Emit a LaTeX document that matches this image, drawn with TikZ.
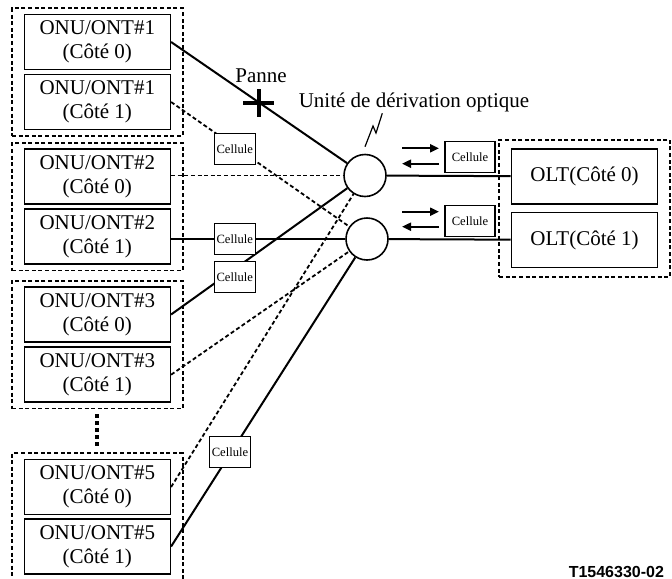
\documentclass[tikz,border=0pt]{standalone}
\usepackage{fontspec}
\setmainfont{Liberation Serif}
\setsansfont{Liberation Sans}
\usetikzlibrary{arrows.meta,fit}
\tikzset{
  onu/.style={draw, line width=0.8pt, fill=white, minimum width=73pt, minimum height=27.5pt,
    align=center, inner sep=0pt, font=\fontsize{10.5}{12}\selectfont},
  cell/.style={draw, line width=0.6pt, fill=white, minimum width=20.5pt, minimum height=15.5pt,
    inner sep=0pt, font=\fontsize{6.3}{7}\selectfont},
  coupler/.style={draw, circle, line width=0.8pt, fill=white, minimum size=21pt, inner sep=0pt},
  grp/.style={draw, line width=0.9pt, dash pattern=on 2pt off 1.3pt, inner xsep=5.75pt, inner ysep=2.75pt},
  link/.style={line width=1pt},
  spare/.style={line width=0.9pt, dash pattern=on 2pt off 1.3pt},
  flow/.style={line width=1pt, -{Triangle[length=4.5pt,width=4pt]}},
  lbl/.style={font=\fontsize{10.5}{12}\selectfont},
}
\begin{document}
\begin{tikzpicture}[x=0.5pt, y=-0.5pt]
    \useasboundingbox (0,0) rectangle (672,578);

    \node[onu] (onu1a) at (97.3,42) {ONU/ONT\#1\\(Côté 0)};
    \node[onu] (onu1b) at (97.3,102) {ONU/ONT\#1\\(Côté 1)};
    \node[onu] (onu2a) at (97.3,176.5) {ONU/ONT\#2\\(Côté 0)};
    \node[onu] (onu2b) at (97.3,236.7) {ONU/ONT\#2\\(Côté 1)};
    \node[onu] (onu3a) at (97.3,314.5) {ONU/ONT\#3\\(Côté 0)};
    \node[onu] (onu3b) at (97.3,374.7) {ONU/ONT\#3\\(Côté 1)};
    \node[onu] (onu5a) at (97.3,487) {ONU/ONT\#5\\(Côté 0)};
    \node[onu] (onu5b) at (97.3,546.5) {ONU/ONT\#5\\(Côté 1)};

    \node[grp, fit=(onu1a)(onu1b)] (g1) {};
    \node[grp, fit=(onu2a)(onu2b)] (g2) {};
    \node[grp, fit=(onu3a)(onu3b)] (g3) {};
    \node[grp, fit=(onu5a)(onu5b)] (g5) {};
    \draw[line width=2pt, dash pattern=on 2pt off 1.5pt] (96.7,414) -- (96.7,446);

    \node[coupler] (cpl0) at (365,175.5) {};
    \node[coupler] (cpl1) at (367,239) {};

    \node[onu] (olt0) at (584.5,176.5) {OLT(Côté 0)};
    \node[onu] (olt1) at (584.5,240) {OLT(Côté 1)};
    \node[grp, inner ysep=4.25pt, fit=(olt0)(olt1)] (golt) {};

    % liaisons
    \draw[link] (onu1a.east) -- (cpl0);
    \draw[spare] (onu1b.east) -- (cpl1);
    \draw[spare] (onu2a.east |- cpl0) -- (cpl0);
    \draw[link] (onu2b.east |- cpl1) -- (cpl1);
    \draw[link] (onu3a.east) -- (cpl0);
    \draw[spare] (onu3b.east) -- (cpl1);
    \draw[spare] (onu5a.east) -- (cpl0);
    \draw[link] (onu5b.east) -- (cpl1);
    \draw[link] (cpl0) -- (olt0);
    \draw[link] (cpl1) -- (olt1);

    \node[cell] (c1) at (234.7,148.8) {Cellule};
    \node[cell] (c2) at (234.7,238.8) {Cellule};
    \node[cell] (c3) at (234.7,277) {Cellule};
    \node[cell] (c4) at (230,452) {Cellule};
    \node[cell, minimum width=25pt] (c5) at (470,157) {Cellule};
    \node[cell, minimum width=25pt] (c6) at (470,220.7) {Cellule};

    \coordinate (up0w) at (402,148.3);
    \coordinate (up0e) at (439,148.3);
    \coordinate (dn0w) at (402,163.7);
    \coordinate (dn0e) at (439,163.7);
    \coordinate (up1w) at (402,211.7);
    \coordinate (up1e) at (439,211.7);
    \coordinate (dn1w) at (402,226.7);
    \coordinate (dn1e) at (439,226.7);
    \draw[flow] (up0w) -- (up0e);
    \draw[flow] (dn0e) -- (dn0w);
    \draw[flow] (up1w) -- (up1e);
    \draw[flow] (dn1e) -- (dn1w);

    % panne
    \node[lbl] (panne) at (261,76) {Panne};
    \draw[line width=2pt] (243,103.3) -- (274,103.3) (258.5,89) -- (258.5,117);

    \node[lbl] (unite) at (414,102) {Unité de dérivation optique};
    \draw[line width=0.6pt] (382.3,113.3) -- (376,133) -- (373,126) -- (365,146.7);

    \node[anchor=base east, font=\fontsize{8}{9}\selectfont\sffamily\bfseries] (ref) at (671,577) {T1546330-02};
\end{tikzpicture}
\end{document}
